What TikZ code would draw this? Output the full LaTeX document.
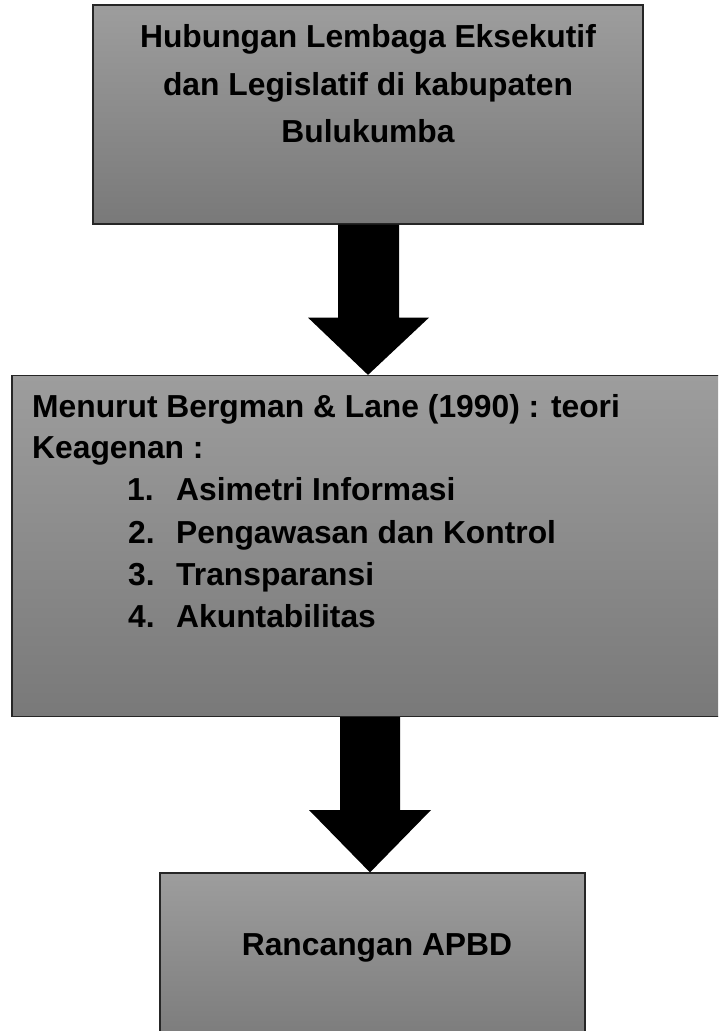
\documentclass[tikz,border=0pt]{standalone}
\usepackage{fontspec}
\setmainfont{Liberation Sans}
\usetikzlibrary{calc}
\definecolor{boxtop}{RGB}{157,157,157}
\definecolor{boxbot}{RGB}{121,121,121}
\tikzset{
  box/.style={rectangle, draw=black!85, line width=1.2pt, top color=boxtop, bottom color=boxbot, inner sep=0pt},
  txt/.style={font=\bfseries\fontsize{31.8}{38}\selectfont, inner sep=0pt, text=black},
  txtl/.style={txt, anchor=base west},
  txtc/.style={txt, anchor=base},
  blockarrow/.style={fill=black, draw=none}
}
\begin{document}
\begin{tikzpicture}[x=1pt,y=-1pt]
\useasboundingbox (0,0) rectangle (718,1031);
\clip (0,0) rectangle (718,1031);
\fill[white] (0,0) rectangle (718,1031);

% boxes
\node[box, minimum width=550pt, minimum height=219pt] (b1) at (368,114.5) {};
\node[box, minimum width=740pt, minimum height=341pt] (b2) at (382,546) {};
\node[box, minimum width=425pt, minimum height=180pt] (b3) at (372.5,963) {};

% arrow 1
\coordinate (a1) at (b1.south);
\fill[blockarrow] ($(a1)+(-30,0)$) -- ($(a1)+(31,0)$) -- ($(a1)+(31,93)$) -- ($(a1)+(61,93)$)
  -- (a1 |- b2.north) -- ($(a1)+(-60,93)$) -- ($(a1)+(-30,93)$) -- cycle;

% arrow 2
\coordinate (a2) at (370,717);
\fill[blockarrow] ($(a2)+(-30,0)$) -- ($(a2)+(30,0)$) -- ($(a2)+(30,93)$) -- ($(a2)+(61,93)$)
  -- (a2 |- b3.north) -- ($(a2)+(-61,93)$) -- ($(a2)+(-30,93)$) -- cycle;

% box 1 text
\node[txtc] (t11) at (368,47.5) {Hubungan Lembaga Eksekutif};
\node[txtc] (t12) at (368,95) {dan Legislatif di kabupaten};
\node[txtc] (t13) at (368,142.5) {Bulukumba};

% box 2 text
\node[txtl] (t21) at (32,417) {Menurut Bergman \& Lane (1990) : teori};
\node[txtl] (t22) at (32,458) {Keagenan :};
\node[txtl] (n1) at (127,500.5) {1.};
\node[txtl] (i1) at (176,500.5) {Asimetri Informasi};
\node[txtl] (n2) at (128,543.5) {2.};
\node[txtl] (i2) at (176,543.5) {Pengawasan dan Kontrol};
\node[txtl] (n3) at (128,585.5) {3.};
\node[txtl] (i3) at (176,585.5) {Transparansi};
\node[txtl] (n4) at (128,627) {4.};
\node[txtl] (i4) at (176,627) {Akuntabilitas};

% box 3 text
\node[txtc] (t31) at (377,955) {Rancangan APBD};
\end{tikzpicture}
\end{document}
